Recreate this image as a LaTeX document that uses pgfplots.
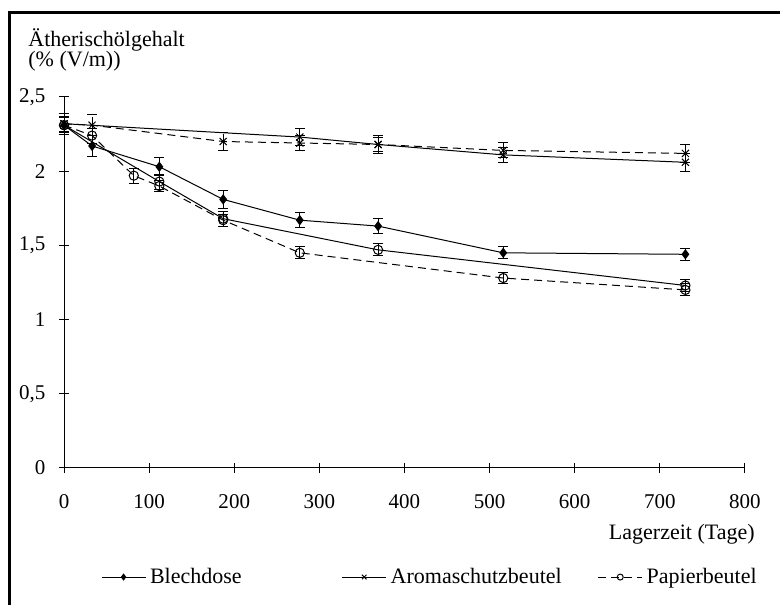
\documentclass[border=0pt]{standalone}
\usepackage{pgfplots}
\pgfplotsset{compat=1.18}
\usepackage{fontspec}
\setmainfont{Liberation Serif}
\begin{document}
\fontsize{11}{13}\selectfont
\begin{tikzpicture}
\useasboundingbox (0pt,0pt) rectangle (390pt,302pt);
\draw[line width=1.5pt] (4.5pt,-2pt) -- (4.5pt,295.5pt) -- (392pt,295.5pt);
\begin{axis}[
  at={(32pt,68pt)}, anchor=south west,
  scale only axis, width=340.5pt, height=185.5pt,
  xmin=0, xmax=800, ymin=0, ymax=2.5,
  axis lines=left, axis line style={-, line width=0.5pt},
  xtick={0,100,...,800}, ytick={0,0.5,1,1.5,2,2.5},
  tick align=center, major tick length=5pt,
  tick style={black, line width=0.5pt},
  /pgf/number format/use comma,
  /pgf/number format/assume math mode=true,
  ticklabel style={font=\fontsize{10.5}{12}\selectfont},
  xticklabel style={yshift=-7pt},
  yticklabel style={xshift=-3pt},
  clip=false,
  every axis plot/.append style={line width=0.5pt, black},
  error bars/error mark options={rotate=90, mark size=2.5pt, line width=0.5pt, black},
  error bars/error bar style={line width=0.5pt, black},
  legend columns=3,
  legend style={draw=none, fill=none, at={(0.045,-0.294)}, anchor=west,
    font=\fontsize{11}{13}\selectfont,
    /tikz/every even column/.append style={column sep=16pt}},
  legend image code/.code={\draw[mark repeat=2,mark phase=2,#1] plot coordinates {(0pt,0pt) (11pt,0pt) (22pt,0pt)};},
  legend image post style={every mark/.append style={scale=0.65}},
]
% Blechdose
\addplot[solid, mark=diamond*, mark size=2.2pt, mark options={solid, fill=black},
  error bars/.cd, y dir=both, y explicit] coordinates {
  (0,2.31) +- (0,0.06)
  (33,2.17) +- (0,0.07)
  (112,2.03) +- (0,0.06)
  (187,1.81) +- (0,0.06)
  (277,1.67) +- (0,0.05)
  (369,1.63) +- (0,0.05)
  (516,1.45) +- (0,0.04)
  (730,1.44) +- (0,0.04)
};
\addlegendentry{Blechdose\hspace*{32pt}}
% Aromaschutzbeutel (solid)
\addplot[solid, mark=x, mark size=2.5pt, mark options={solid},
  error bars/.cd, y dir=both, y explicit] coordinates {
  (0,2.32) +- (0,0.07)
  (277,2.23) +- (0,0.06)
  (369,2.18) +- (0,0.06)
  (516,2.11) +- (0,0.05)
  (730,2.06) +- (0,0.06)
};
\addlegendentry{Aromaschutzbeutel}
% Papierbeutel (dashed)
\addplot[dash pattern=on 4pt off 2.5pt, mark=o, mark size=2.3pt, mark options={solid, fill=white},
  error bars/.cd, y dir=both, y explicit] coordinates {
  (0,2.31) +- (0,0.05)
  (33,2.24) +- (0,0.05)
  (82,1.97) +- (0,0.05)
  (112,1.90) +- (0,0.04)
  (187,1.67) +- (0,0.04)
  (277,1.45) +- (0,0.04)
  (516,1.28) +- (0,0.04)
  (730,1.20) +- (0,0.04)
};
\addlegendentry{Papierbeutel}
% Aromaschutzbeutel (dashed)
\addplot[forget plot, dash pattern=on 4pt off 2.5pt, mark=x, mark size=2.5pt, mark options={solid},
  error bars/.cd, y dir=both, y explicit] coordinates {
  (0,2.32) +- (0,0.05)
  (33,2.31) +- (0,0.07)
  (187,2.20) +- (0,0.06)
  (277,2.19) +- (0,0.05)
  (369,2.18) +- (0,0.05)
  (516,2.14) +- (0,0.05)
  (730,2.12) +- (0,0.06)
};
% Papierbeutel (solid)
\addplot[forget plot, solid, mark=o, mark size=2.3pt, mark options={solid, fill=white},
  error bars/.cd, y dir=both, y explicit] coordinates {
  (0,2.31) +- (0,0.05)
  (112,1.93) +- (0,0.05)
  (187,1.68) +- (0,0.05)
  (369,1.47) +- (0,0.04)
  (730,1.23) +- (0,0.04)
};
\end{axis}
\node[anchor=base west, inner sep=0pt] at (14pt,278.5pt) {Ätherischölgehalt};
\node[anchor=base west, inner sep=0pt] at (14pt,268.5pt) {(\% (V/m))};
\node[anchor=base east, inner sep=0pt] at (377.5pt,32pt) {Lagerzeit (Tage)};
\end{tikzpicture}
\end{document}
